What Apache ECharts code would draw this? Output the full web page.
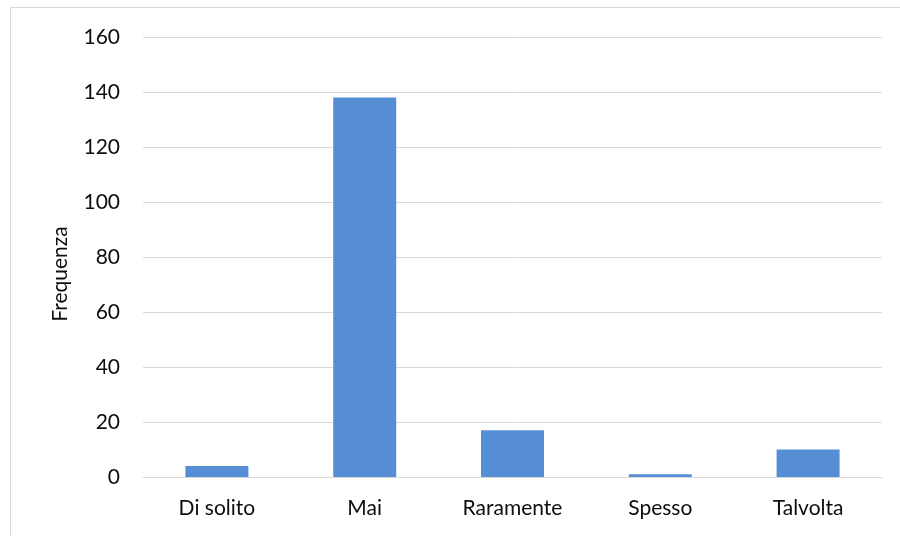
<!DOCTYPE html>
<html>
<head>
<meta charset="utf-8">
<script src="https://cdn.jsdelivr.net/npm/echarts@6/dist/echarts.min.js"></script>
<style>
  html, body { margin: 0; padding: 0; background: #fff; }
  #chart { width: 900px; height: 536px; }
</style>
</head>
<body>
<div id="chart"></div>
<script>
// Frequency of each answer
const categories = ['Di solito', 'Mai', 'Raramente', 'Spesso', 'Talvolta'];
const frequencies = [4, 138, 17, 1, 10];
const yTicks = { min: 0, max: 160, interval: 20 };
const yAxisTitle = 'Frequenza';

const FONT = 'Lato, "Open Sans", "Liberation Sans", sans-serif';
const FONT_SIZE = 21;
const TEXT_COLOR = '#0d0d0d';
const GRID_COLOR = '#d9d9d9';

const chart = echarts.init(document.getElementById('chart'), null, { renderer: 'canvas' });

chart.setOption({
  backgroundColor: '#ffffff',
  animation: false,
  grid: { left: 143, right: 18, top: 37, bottom: 59, containLabel: false },
  xAxis: {
    type: 'category',
    data: categories,
    axisLine: { show: true, lineStyle: { color: GRID_COLOR, width: 1 } },
    axisTick: { show: false },
    axisLabel: { color: TEXT_COLOR, fontFamily: FONT, fontSize: FONT_SIZE, margin: 21 }
  },
  yAxis: {
    type: 'value',
    min: yTicks.min,
    max: yTicks.max,
    interval: yTicks.interval,
    axisLine: { show: false },
    axisTick: { show: false },
    axisLabel: { color: TEXT_COLOR, fontFamily: FONT, fontSize: FONT_SIZE, margin: 23 },
    splitLine: { show: true, lineStyle: { color: GRID_COLOR, width: 1 } }
  },
  series: [{
    type: 'bar',
    data: frequencies,
    barWidth: 63,
    itemStyle: { color: '#558ed5' }
  }],
  graphic: [
    {
      type: 'rect',
      silent: true,
      shape: { x: 10.5, y: 7.5, width: 900, height: 540 },
      style: { fill: null, stroke: GRID_COLOR, lineWidth: 1 }
    },
    {
      type: 'text',
      silent: true,
      x: 60,
      y: 274,
      rotation: Math.PI / 2,
      style: {
        text: yAxisTitle,
        fill: TEXT_COLOR,
        fontFamily: FONT,
        fontSize: FONT_SIZE,
        align: 'center',
        verticalAlign: 'middle'
      }
    }
  ]
});
</script>
</body>
</html>
